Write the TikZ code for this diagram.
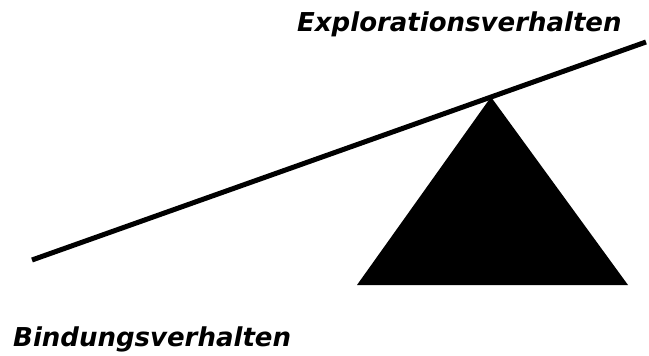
\documentclass[tikz,border=0pt]{standalone}
\usepackage{fontspec}
\setmainfont{DejaVu Sans}
\begin{document}
\begin{tikzpicture}[x=1pt,y=-1pt,
  lbl/.style={font=\fontsize{26}{28}\selectfont\bfseries\itshape, inner sep=0pt, anchor=base west}]
\useasboundingbox (0,0) rectangle (649,356);
\coordinate (L) at (32,260);
\coordinate (R) at (646,42);
\coordinate (A) at (491,97);
\coordinate (B1) at (357,285);
\coordinate (B2) at (628,285);
\fill (A) -- (B1) -- (B2) -- cycle;
\draw[line width=5pt] (L) -- (R);
\node[lbl] (t1) at (297,31) {Explorationsverhalten};
\node[lbl] (t2) at (13,346) {Bindungsverhalten};
\end{tikzpicture}
\end{document}
